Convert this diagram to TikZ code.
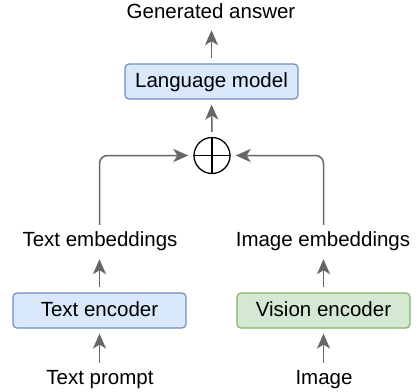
\documentclass[tikz,border=0pt]{standalone}
\usepackage{fontspec}
\setmainfont{Liberation Sans}
\usetikzlibrary{arrows.meta}
\definecolor{bluefill}{HTML}{DAE8FC}
\definecolor{bluedraw}{HTML}{6C8EBF}
\definecolor{greenfill}{HTML}{D5E8D4}
\definecolor{greendraw}{HTML}{82B366}
\definecolor{conn}{HTML}{666666}
\begin{document}
\begin{tikzpicture}[x=1pt,y=-1pt,
  every node/.style={font=\fontsize{20.5}{24}\selectfont, inner sep=0pt, text height=15pt, text depth=4pt},
  block/.style={draw, rounded corners=4pt, line width=1.2pt, minimum width=173pt, minimum height=35pt},
  blueblock/.style={block, fill=bluefill, draw=bluedraw},
  greenblock/.style={block, fill=greenfill, draw=greendraw},
  label/.style={},
  flow/.style={draw=conn, line width=1.5pt, rounded corners=8pt,
    -{Stealth[length=15pt,width=13pt,inset=4pt,fill=conn]}},
  sumnode/.style={circle, draw=black, line width=1.3pt, minimum size=36pt, text height=, text depth=}
]
\useasboundingbox (0,0) rectangle (417,391);

\node[label] (ans) at (211,13) {Generated answer};
\node[blueblock] (lm) at (211.5,81.5) {Language model};
\node[sumnode] (sum) at (212,155.5) {};
\draw[line width=1.3pt] (sum.north) -- (sum.south) (sum.west) -- (sum.east);

\node[label] (temb) at (100,241) {Text embeddings};
\node[label] (iemb) at (323,241) {Image embeddings};
\node[blueblock] (tenc) at (99.5,310.5) {Text encoder};
\node[greenblock] (venc) at (323.5,310.5) {Vision encoder};
\node[label] (tprompt) at (100,379) {Text prompt};
\node[label] (img) at (324,379) {Image};

\coordinate (tl) at (99.5,155.5);
\coordinate (tr) at (323.5,155.5);

\draw[flow] ([yshift=5pt]lm.north) -- ([yshift=-7.5pt]lm.north |- ans.south);
\draw[flow] ([yshift=5pt]sum.north) -- ([yshift=-5pt]lm.south);
\draw[flow] ([yshift=6.5pt]tl |- temb.north) -- (tl) -- ([xshift=-5pt]sum.west);
\draw[flow] ([yshift=6.5pt]tr |- iemb.north) -- (tr) -- ([xshift=5pt]sum.east);
\draw[flow] ([yshift=5pt]tenc.north) -- ([yshift=-8.5pt]tenc.north |- temb.south);
\draw[flow] ([yshift=5pt]venc.north) -- ([yshift=-8.5pt]venc.north |- iemb.south);
\draw[flow] ([yshift=6.5pt]tenc.south |- tprompt.north) -- ([yshift=-5pt]tenc.south);
\draw[flow] ([yshift=6.5pt]venc.south |- img.north) -- ([yshift=-5pt]venc.south);
\end{tikzpicture}
\end{document}
